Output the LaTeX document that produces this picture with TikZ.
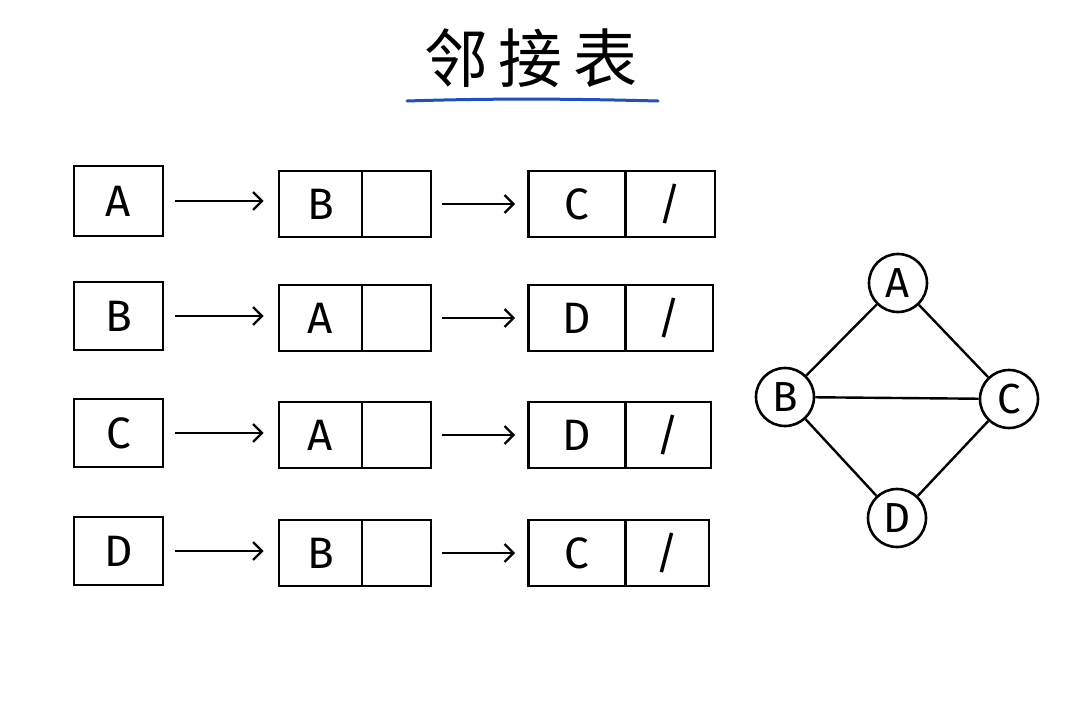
\documentclass[tikz,border=0pt]{standalone}
\usepackage{fontspec}
\setmainfont{Fira Sans}
\newfontfamily\cjk{Noto Sans CJK SC}
\usetikzlibrary{arrows.meta}
\definecolor{ulblue}{RGB}{30,80,190}
\begin{document}
\begin{tikzpicture}[x=1pt,y=-1pt,
  line width=2.6pt,
  cell/.style={draw, line width=2.6pt, inner sep=0pt, font=\fontsize{44}{44}\selectfont},
  arr/.style={-{Straight Barb[length=9pt,width=18pt,line width=2.4pt]}, line width=2.4pt},
  gnode/.style={draw, circle, minimum size=58pt, inner sep=0pt, line width=2.6pt, font=\fontsize{42}{42}\selectfont},
  edge/.style={line width=2.4pt}]
\useasboundingbox[fill=white] (0,0) rectangle (1080,720);
% title
\node[font=\cjk\fontsize{64}{64}\selectfont, inner sep=0pt] (title) at (531,58) {邻\,接\,表};
\draw[ulblue, line width=3pt, line cap=round] (407,101) .. controls (500,98) and (580,99) .. (658,101);
% row helper
\newcommand\listrow[9]{%
  \node[cell, minimum width=89pt, minimum height={#2-#1}] (h#8) at (118.5,{(#1+#2)/2}) {#3};
  \node[cell, minimum width=83pt, minimum height={#5-#4}] (a#8) at (320.5,{(#4+#5)/2}) {#6};
  \node[cell, minimum width=69pt, minimum height={#5-#4}] (ap#8) at (396.5,{(#4+#5)/2}) {};
  \node[cell, minimum width=97pt, minimum height={#5-#4}] (b#8) at (577,{(#4+#5)/2}) {#7};
  \node[cell, minimum width={#9-625.5}, minimum height={#5-#4}] (bp#8) at ({(625.5+#9)/2},{(#4+#5)/2}) {/};
  \draw[arr] ([xshift=11pt]h#8.east) -- ([xshift=-14pt]a#8.west |- h#8.east);
  \draw[arr] ([xshift=10pt]ap#8.east) -- ([xshift=-12pt]b#8.west);
}
\listrow{166}{236}{A}{171}{237}{B}{C}{1}{715}
\listrow{282}{350}{B}{285}{351}{A}{D}{2}{713}
\listrow{399}{467}{C}{402}{468}{A}{D}{3}{711}
\listrow{517}{585}{D}{520}{586}{B}{C}{4}{709}
% graph
\node[gnode] (gA) at (898,283) {A};
\node[gnode] (gB) at (785,397) {B};
\node[gnode] (gC) at (1009,399) {C};
\node[gnode] (gD) at (897,518) {D};
\draw[edge] (gA) -- (gB);
\draw[edge] (gA) -- (gC);
\draw[edge] (gB) -- (gC);
\draw[edge] (gB) -- (gD);
\draw[edge] (gC) -- (gD);
\end{tikzpicture}
\end{document}
